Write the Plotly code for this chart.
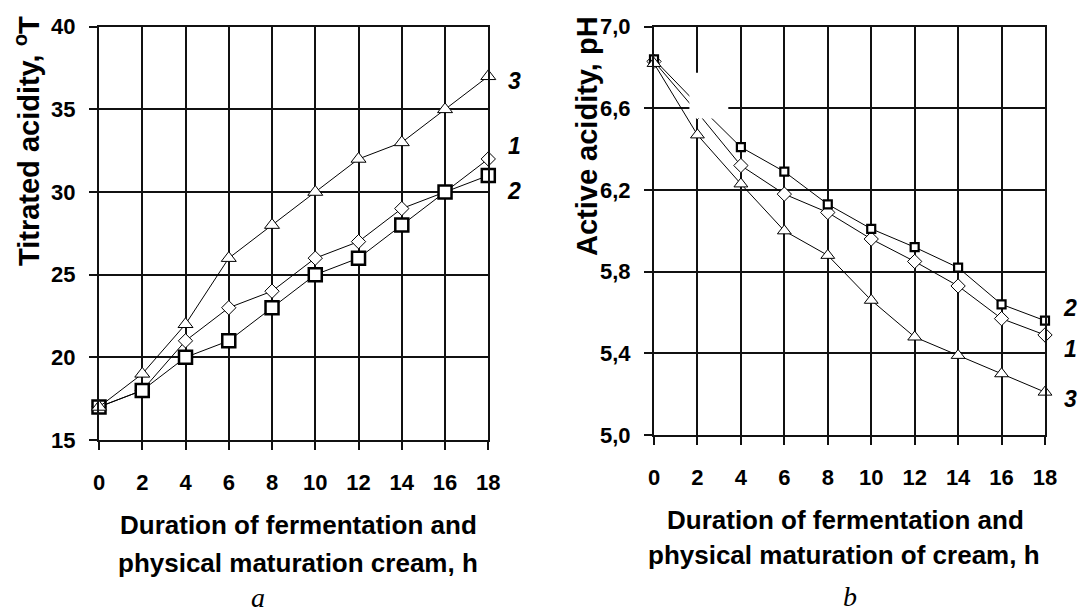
import plotly.graph_objects as go

# ---- data ----
hours = [0, 2, 4, 6, 8, 10, 12, 14, 16, 18]

# panel a: titrated acidity, °T
titr_1 = [17, 18, 21, 23, 24, 26, 27, 29, 30, 32]
titr_2 = [17, 18, 20, 21, 23, 25, 26, 28, 30, 31]
titr_3 = [17, 19, 22, 26, 28, 30, 32, 33, 35, 37]

# panel b: active acidity, pH
ph_1 = [6.83, 6.58, 6.32, 6.18, 6.09, 5.96, 5.85, 5.73, 5.57, 5.49]
ph_2 = [6.84, 6.62, 6.41, 6.29, 6.13, 6.01, 5.92, 5.82, 5.64, 5.56]
ph_3 = [6.82, 6.47, 6.23, 6.00, 5.88, 5.66, 5.48, 5.39, 5.30, 5.21]

x_ticks = [0, 2, 4, 6, 8, 10, 12, 14, 16, 18]
a_yticks = [15, 20, 25, 30, 35, 40]
b_yticks = [5.0, 5.4, 5.8, 6.2, 6.6, 7.0]
b_yticktext = ["5,0", "5,4", "5,8", "6,2", "6,6", "7,0"]

W, H = 1082, 614
FONT = "Liberation Sans, Arial, sans-serif"

def px(x):
    return x / W

def py(y):
    return 1 - y / H

fig = go.Figure()

def add_series(x, y, sym, size, lw, xa, ya):
    fig.add_trace(go.Scatter(
        x=x, y=y, mode="lines+markers", xaxis=xa, yaxis=ya,
        line=dict(color="black", width=1),
        marker=dict(symbol=sym, size=size, color="white",
                    line=dict(color="black", width=lw)),
        showlegend=False, cliponaxis=False, hoverinfo="skip"))

# panel a
add_series(hours, titr_1, "diamond", 11, 1, "x", "y")
add_series(hours, titr_2, "square", 13, 2.5, "x", "y")
add_series(hours, titr_3, "triangle-up", 13, 1, "x", "y")
# panel b
add_series(hours, ph_1, "diamond", 11, 1, "x2", "y2")
add_series(hours, ph_2, "square", 8, 2.2, "x2", "y2")
add_series(hours, ph_3, "triangle-up", 12, 1, "x2", "y2")

axis_common = dict(
    showgrid=True, gridcolor="#111111", gridwidth=2,
    showline=True, linecolor="#111111", linewidth=2, mirror=True,
    ticks="outside", ticklen=8, tickcolor="#111111", tickwidth=2,
    zeroline=False, automargin=False,
    tickfont=dict(family=FONT, size=22, color="black", weight="bold"),
)

fig.update_layout(
    width=W, height=H,
    margin=dict(l=0, r=0, t=0, b=0, pad=0, autoexpand=False),
    paper_bgcolor="white", plot_bgcolor="white",
    xaxis=dict(domain=[px(99), px(488.3)], range=[0, 18],
               tickvals=x_ticks, anchor="y", ticklabelstandoff=14, **axis_common),
    yaxis=dict(domain=[py(440), py(26.7)], range=[15, 40],
               tickvals=a_yticks, anchor="x", ticklabelstandoff=9, **axis_common),
    xaxis2=dict(domain=[px(654), px(1045)], range=[0, 18],
                tickvals=x_ticks, anchor="y2", ticklabelstandoff=14, **axis_common),
    yaxis2=dict(domain=[py(435), py(26.7)], range=[5.0, 7.0],
                tickvals=b_yticks, ticktext=b_yticktext, anchor="x2",
                ticklabelstandoff=9, **axis_common),
)

# white patch occluding part of panel b (as in the original figure)
fig.add_shape(type="rect", xref="x2", yref="y2", x0=1.63, x1=3.42, y0=6.55, y1=6.775,
              fillcolor="white", line=dict(width=0), layer="above")

title_font = dict(family=FONT, size=26, color="black", weight="bold")
ytitle_font = dict(family=FONT, size=29, color="black", weight="bold")
ann = []
ann.append(dict(text="Titrated acidity, <sup>o</sup>T", x=px(27), y=py(141), textangle=-90,
                font=ytitle_font))
ann.append(dict(text="Active acidity, pH", x=px(587), y=py(136), textangle=-90,
                font=ytitle_font))
ann.append(dict(text="Duration of fermentation and", x=px(298), y=py(525), font=title_font))
ann.append(dict(text="physical maturation cream, h", x=px(298), y=py(563), font=title_font))
ann.append(dict(text="Duration of fermentation and", x=px(845), y=py(520), font=title_font))
ann.append(dict(text="physical maturation of cream, h", x=px(844), y=py(555), font=title_font))
lab_font = dict(family=FONT, size=23, color="black", weight="bold", style="italic")
for t, x, y in [("3", 514, 81), ("1", 514, 146), ("2", 514, 191),
                ("2", 1070, 308), ("1", 1070, 349), ("3", 1070, 399)]:
    ann.append(dict(text=t, x=px(x), y=py(y), font=lab_font))
sub_font = dict(family="Liberation Serif, Times New Roman, serif", size=28,
                color="black", style="italic")
ann.append(dict(text="a", x=px(258), y=py(597), font=sub_font))
ann.append(dict(text="b", x=px(850), y=py(596), font=sub_font))

for a in ann:
    a.update(xref="paper", yref="paper", showarrow=False,
             xanchor="center", yanchor="middle")
    fig.add_annotation(**a)

fig.write_html("out.html", config={"displayModeBar": False, "staticPlot": True},
               post_script="document.body.style.margin='0';document.body.style.overflow='hidden';")
